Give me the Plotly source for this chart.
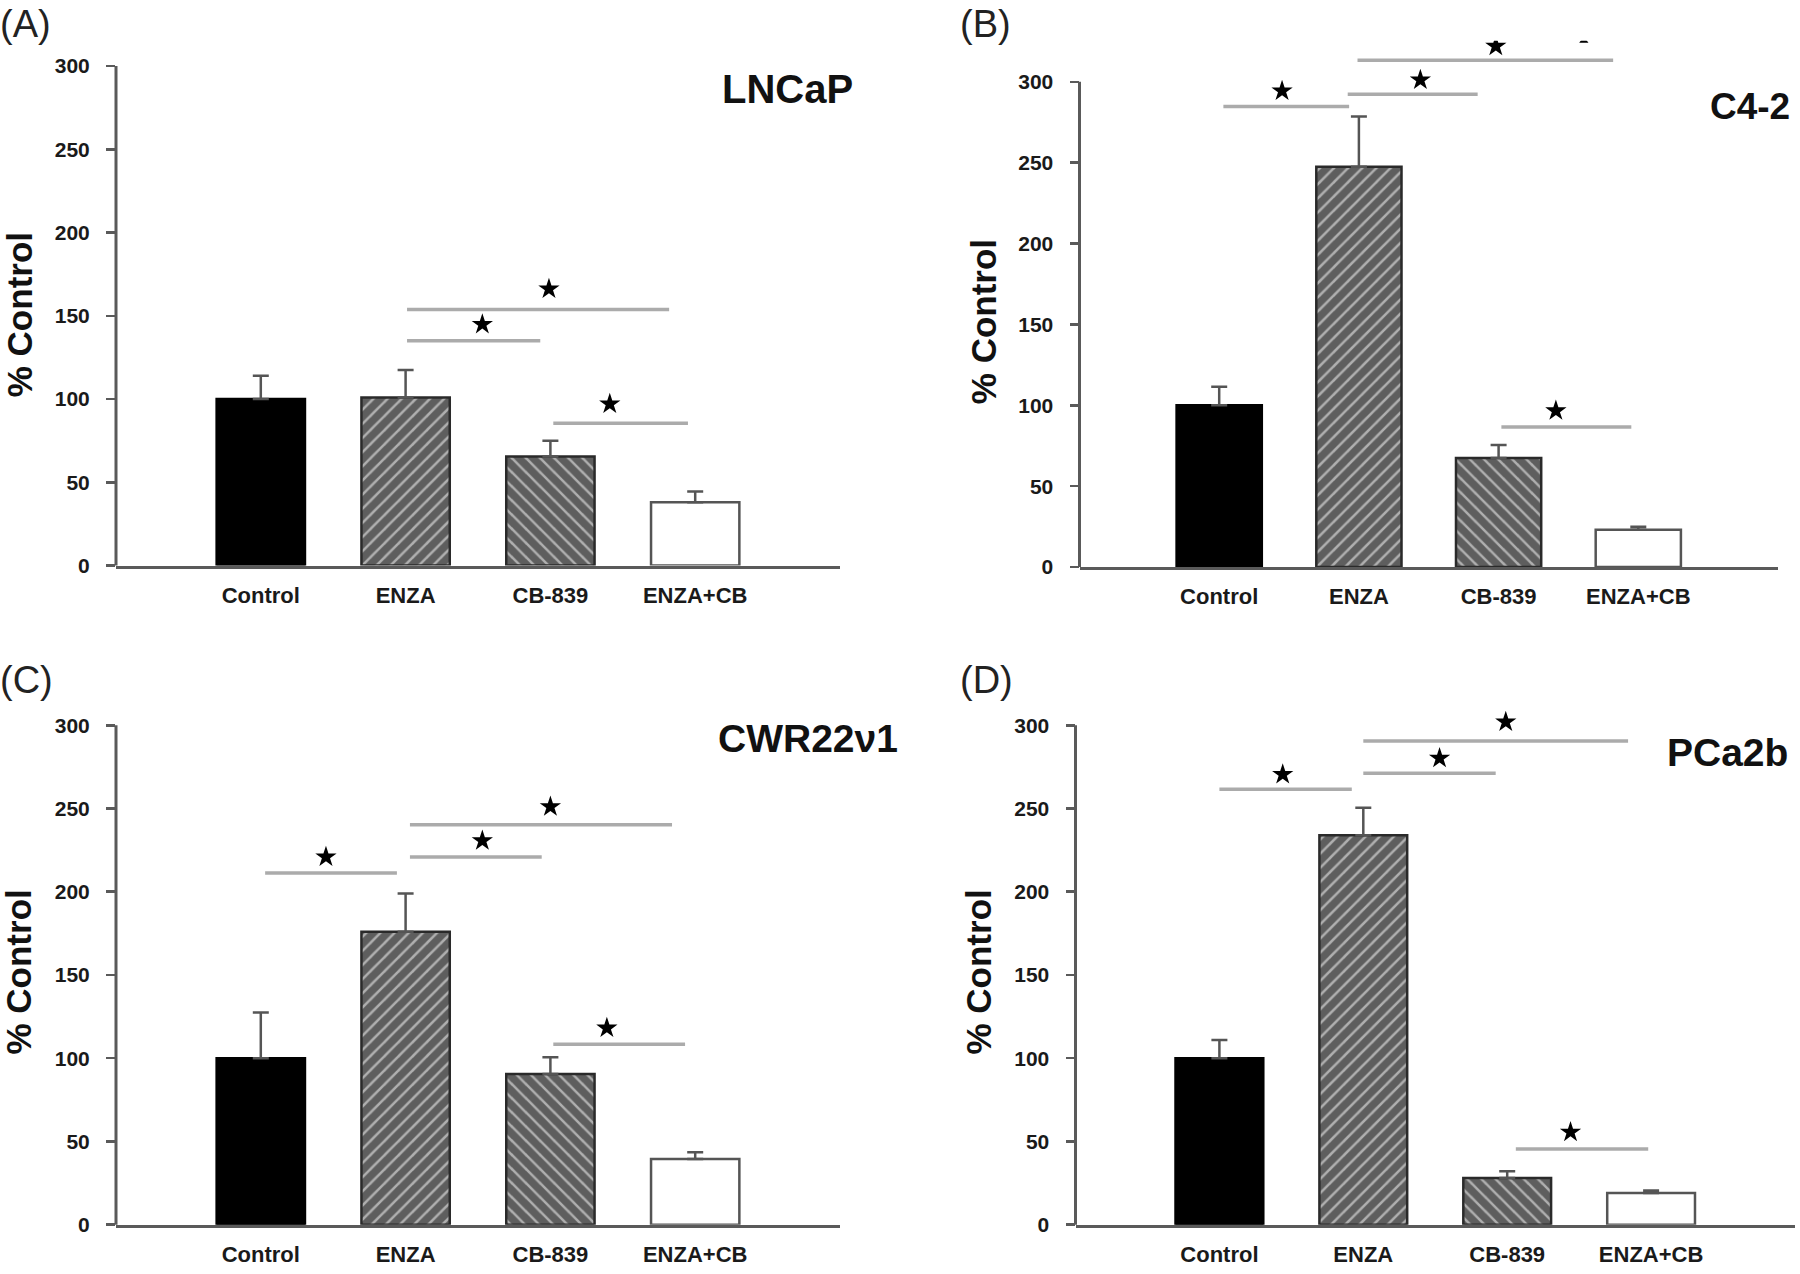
import plotly.graph_objects as go

W, H = 1800, 1274

# ---------------- data ----------------
categories = ["Control", "ENZA", "CB-839", "ENZA+CB"]
panel_letters = ["(A)", "(B)", "(C)", "(D)"]
cell_lines = ["LNCaP", "C4-2", "CWR22\u03bd1", "PCa2b"]
y_ticks = [0, 50, 100, 150, 200, 250, 300]
y_title = "% Control"

# (A) LNCaP
a_mean = [100, 101, 65.5, 38]
a_err = [14, 16.5, 9.5, 6.5]
a_sig_from = [1.01, 1.01, 2.02]
a_sig_to = [2.82, 1.93, 2.95]
a_sig_y = [153.8, 135.0, 85.5]
a_star_x = [1.99, 1.53, 2.41]
a_star_y = [166.2, 144.9, 97.1]

# (B) C4-2
b_mean = [100, 247.5, 67.5, 23]
b_err = [11.5, 31, 8, 2]
b_sig_from = [0.03, 0.92, 0.99, 2.02]
b_sig_to = [0.93, 1.85, 2.82, 2.95]
b_sig_y = [284.7, 292.3, 313.3, 86.6]
b_star_x = [0.45, 1.44, 1.98, 2.41]
b_star_y = [294.3, 301.2, 322.0, 96.6]

# (C) CWR22v1
c_mean = [100, 176, 90.5, 39.5]
c_err = [27.5, 23, 10, 4]
c_sig_from = [0.03, 1.03, 1.03, 2.02]
c_sig_to = [0.94, 1.94, 2.84, 2.93]
c_sig_y = [211.2, 220.9, 240.2, 108.4]
c_star_x = [0.45, 1.53, 2.0, 2.39]
c_star_y = [220.9, 230.6, 251.1, 118.1]

# (D) PCa2b
d_mean = [100, 234, 28, 19]
d_err = [11, 16.5, 4, 1.5]
d_sig_from = [0.0, 1.0, 1.0, 2.06]
d_sig_to = [0.92, 1.92, 2.84, 2.98]
d_sig_y = [261.5, 271.2, 290.6, 45.5]
d_star_x = [0.44, 1.53, 1.99, 2.44]
d_star_y = [270.5, 280.2, 302.0, 55.6]

panels_data = [
    (a_mean, a_err, a_sig_from, a_sig_to, a_sig_y, a_star_x, a_star_y),
    (b_mean, b_err, b_sig_from, b_sig_to, b_sig_y, b_star_x, b_star_y),
    (c_mean, c_err, c_sig_from, c_sig_to, c_sig_y, c_star_x, c_star_y),
    (d_mean, d_err, d_sig_from, d_sig_to, d_sig_y, d_star_x, d_star_y),
]

# ---------------- layout geometry (pixels) ----------------
# x0/x1: axis extent; p0: pixel of y=0; p300: pixel of y=300; top: plot top pixel
geo = [
    dict(x0=116, x1=840, p0=570.5, p300=66.7, top=20,
         letter=(-2, 24), ytitle=(19, 318), title=(855, 90), tsize=40),
    dict(x0=1079.5, x1=1778, p0=572.0, p300=82.5, top=41,
         letter=(958, 24), ytitle=(983, 325), title=(1792, 107), tsize=37),
    dict(x0=116, x1=840, p0=1235.3, p300=731.6, top=680,
         letter=(-2, 686), ytitle=(19, 981), title=(900, 745), tsize=39),
    dict(x0=1075.5, x1=1795, p0=1235.3, p300=731.6, top=680,
         letter=(958, 686), ytitle=(979, 981), title=(1790, 759), tsize=39),
]

FONT = "Liberation Sans, Arial, sans-serif"
AX_COLOR = "#5a5a5a"
HATCH_BG = "#5e5e5e"
HATCH_FG = "#d4d4d4"

fig = go.Figure()
shapes = []
annotations = []
layout_axes = {}

xpos = list(range(len(categories)))

for i, (g, pdata) in enumerate(zip(geo, panels_data)):
    mean, err, s_from, s_to, s_y, st_x, st_y = pdata
    n = "" if i == 0 else str(i + 1)
    xa, ya = "x" + n, "y" + n
    ppu = (g["p0"] - g["p300"]) / 300.0
    ymax = (g["p0"] - g["top"]) / ppu

    fig.add_trace(go.Bar(
        x=xpos, y=mean, width=0.61,
        xaxis=xa, yaxis=ya,
        marker=dict(
            color=["#000000", HATCH_BG, HATCH_BG, "#ffffff"],
            line=dict(color=["#000000", "#2a2a2a", "#2a2a2a", "#555555"], width=2.5),
            pattern=dict(shape=["", "/", "\\", ""],
                         bgcolor=["#000000", HATCH_BG, HATCH_BG, "#ffffff"],
                         fgcolor=HATCH_FG, size=10, solidity=0.25),
        ),
        error_y=dict(type="data", array=err, arrayminus=[0] * len(err), symmetric=False,
                     color="#555555", thickness=2.5, width=8),
        showlegend=False, hoverinfo="skip",
    ))

    fig.add_trace(go.Scatter(
        x=st_x, y=st_y, mode="markers", xaxis=xa, yaxis=ya,
        marker=dict(symbol="star", size=16, color="#000000"),
        cliponaxis=True, showlegend=False, hoverinfo="skip",
    ))

    if i == 1:
        # partially cropped mark at the very top of panel B
        fig.add_trace(go.Scatter(
            x=[2.61], y=[ymax], mode="markers", xaxis=xa, yaxis=ya,
            marker=dict(symbol="triangle-up", size=8, color="#000000"),
            cliponaxis=True, showlegend=False, hoverinfo="skip",
        ))

    for a, b, yv in zip(s_from, s_to, s_y):
        shapes.append(dict(type="line", xref=xa, yref=ya, x0=a, x1=b, y0=yv, y1=yv,
                           line=dict(color="#ababab", width=3.5)))

    # y axis line (0..300 only)
    shapes.append(dict(type="line", xref="paper", yref="paper",
                       x0=g["x0"] / W, x1=g["x0"] / W,
                       y0=1 - g["p0"] / H, y1=1 - g["p300"] / H,
                       line=dict(color=AX_COLOR, width=3)))

    key = "" if i == 0 else str(i + 1)
    layout_axes["xaxis" + key] = dict(
        domain=[g["x0"] / W, g["x1"] / W], range=[-1, 4],
        tickvals=xpos, ticktext=categories, ticks="",
        showline=True, linecolor=AX_COLOR, linewidth=3,
        showgrid=False, zeroline=False, fixedrange=True,
        tickfont=dict(family=FONT, size=22, color="#1a1a1a", weight="bold"),
        ticklabelstandoff=8,
        anchor=ya,
    )
    layout_axes["yaxis" + key] = dict(
        domain=[1 - g["p0"] / H, 1 - g["top"] / H], range=[0, ymax],
        tickvals=y_ticks, ticks="outside", ticklen=9, tickwidth=2.5, tickcolor=AX_COLOR,
        showline=False, showgrid=False, zeroline=False, fixedrange=True,
        tickfont=dict(family=FONT, size=21, color="#1a1a1a", weight="bold"),
        ticklabelstandoff=12,
        anchor=xa,
    )

    annotations.append(dict(text=panel_letters[i], xref="paper", yref="paper",
                            x=g["letter"][0] / W, y=1 - g["letter"][1] / H,
                            xanchor="left", yanchor="middle", showarrow=False,
                            font=dict(family=FONT, size=38, color="#222222")))
    annotations.append(dict(text=y_title, xref="paper", yref="paper",
                            x=g["ytitle"][0] / W, y=1 - g["ytitle"][1] / H,
                            xanchor="center", yanchor="middle", showarrow=False, textangle=-90,
                            font=dict(family=FONT, size=35, color="#111111", weight="bold")))
    annotations.append(dict(text=cell_lines[i], xref="paper", yref="paper",
                            x=g["title"][0] / W, y=1 - g["title"][1] / H,
                            xanchor="right", yanchor="middle", showarrow=False,
                            font=dict(family=FONT, size=g["tsize"], color="#111111", weight="bold")))

fig.update_layout(
    width=W, height=H,
    margin=dict(l=0, r=0, t=0, b=0),
    paper_bgcolor="#ffffff", plot_bgcolor="rgba(0,0,0,0)",
    shapes=shapes, annotations=annotations,
    bargap=0.4,
    **layout_axes,
)

fig.write_html(
    "out.html",
    config={"displayModeBar": False, "staticPlot": True},
    post_script="document.body.style.margin='0';document.body.style.overflow='hidden';",
)
